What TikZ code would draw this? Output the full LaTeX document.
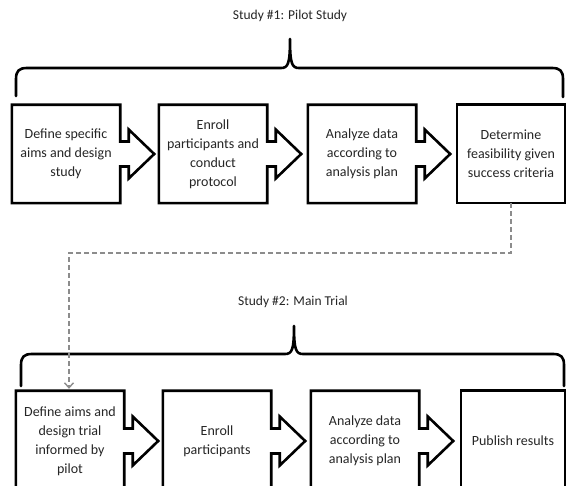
\documentclass[tikz,border=0pt]{standalone}
\usepackage{fontspec}
\setmainfont{Carlito}
\usetikzlibrary{calc,arrows.meta}
\definecolor{txt}{HTML}{262626}
\definecolor{dashgray}{HTML}{8C8C8C}
\newcommand\drawArrowBox[1]{%
  \draw[outline] (#1.south east) -- (#1.south west) -- (#1.north west) -- (#1.north east)
    -- ($(#1.east)+(0,-12.5)$) -- ++(8.5,0) -- ++(0,-12) -- ($(#1.east)+(34,0)$)
    -- ($(#1.east)+(8.5,24.5)$) -- ++(0,-12) -- ($(#1.east)+(0,12.5)$) -- cycle;}
\newcommand\drawPlainBox[1]{%
  \draw[outline] (#1.south east) -- (#1.south west) -- (#1.north west) -- (#1.north east) -- cycle;}
\begin{document}
\begin{tikzpicture}[x=1pt,y=-1pt,
  boxtext/.style={minimum width=108pt, minimum height=98pt, inner sep=0pt, align=center,
    font=\fontsize{14}{19}\selectfont, text=txt},
  rowtwo/.style={minimum height=100pt},
  outline/.style={line width=2.6pt, draw=black, line join=miter},
  bracestyle/.style={line width=2.6pt, draw=black, line join=round, line cap=round},
  titletext/.style={font=\fontsize{13.5}{16}\selectfont, text=txt, inner sep=0pt},
  feedback/.style={draw=dashgray, line width=1.4pt, dash pattern=on 5pt off 3pt,
    -{Straight Barb[length=5pt,width=9pt]}}
]
\useasboundingbox (0,0) rectangle (566,486);
\clip (0,0) rectangle (566,486);
\fill[white] (0,0) rectangle (566,486);

% Study 1
\node[titletext] (t1) at (290,16) {Study \#1: Pilot Study};
\draw[bracestyle] (16,96) -- (16,79) .. controls (16,71) and (19,68) .. (27,68)
  -- (281,68) .. controls (288,68) and (290,64) .. (290,39)
  .. controls (290,64) and (292,68) .. (299,68)
  -- (552,68) .. controls (560,68) and (563,71) .. (563,79) -- (563,97);

\node[boxtext] (b1) at (66,154) {Define specific\\aims and design\\study};
\node[boxtext] (b2) at (213,154) {Enroll\\participants and\\conduct\\protocol};
\node[boxtext] (b3) at (362,154) {Analyze data\\according to\\analysis plan};
\node[boxtext] (b4) at (511,154) {Determine\\feasibility given\\success criteria};
\drawArrowBox{b1}
\drawArrowBox{b2}
\drawArrowBox{b3}
\drawPlainBox{b4}

% Study 2
\node[titletext] (t2) at (293,302) {Study \#2: Main Trial};
\draw[bracestyle] (21,386) -- (21,365) .. controls (21,357) and (24,354) .. (32,354)
  -- (285,354) .. controls (292,354) and (294,350) .. (294,326)
  .. controls (294,350) and (296,354) .. (303,354)
  -- (553,354) .. controls (561,354) and (564,357) .. (564,365) -- (564,386);

\node[boxtext,rowtwo] (b5) at (70,441) {Define aims and\\design trial\\informed by\\pilot};
\node[boxtext,rowtwo] (b6) at (217,441) {Enroll\\participants};
\node[boxtext,rowtwo] (b7) at (365,441) {Analyze data\\according to\\analysis plan};
\node[boxtext,rowtwo,minimum width=104pt] (b8) at (513,441) {Publish results};
\drawArrowBox{b5}
\drawArrowBox{b6}
\drawArrowBox{b7}
\drawPlainBox{b8}

% feedback from pilot to main trial
\draw[feedback] (b4.south) -- ++(0,50) -| ($(b5.north)+(-1,-2)$);
\end{tikzpicture}
\end{document}
